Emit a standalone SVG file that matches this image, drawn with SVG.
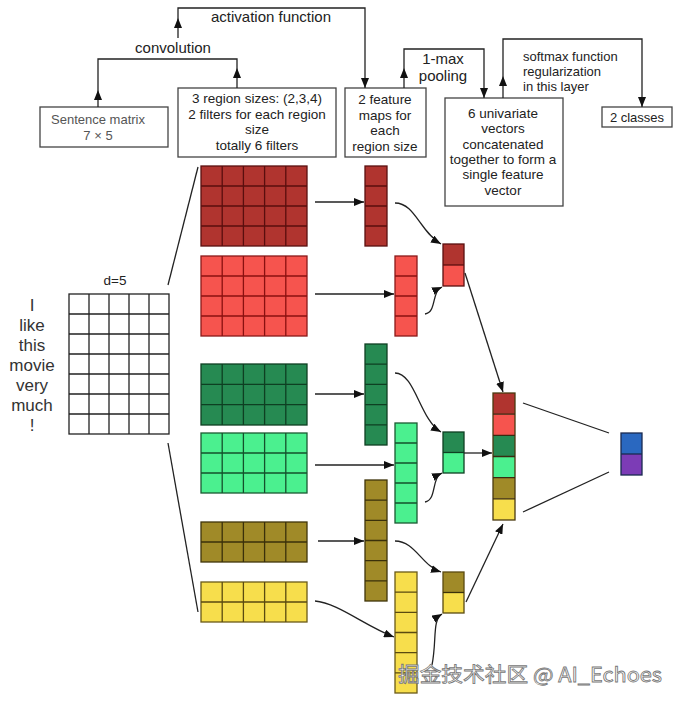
<svg xmlns="http://www.w3.org/2000/svg" width="680" height="705" viewBox="0 0 680 705">
<defs>
<marker id="ah" markerUnits="userSpaceOnUse" markerWidth="10" markerHeight="8" refX="10" refY="4" orient="auto">
<path d="M0,0 L10,4 L0,8 z" fill="#111"/>
</marker>
<style>
text{font-family:"Liberation Sans",Arial,sans-serif;fill:#222}
.box{fill:#fff;stroke:#444;stroke-width:1.3}
.t{font-size:13.5px;text-anchor:middle}
.lbl{font-size:15px}
.ln{fill:none;stroke:#222;stroke-width:1.3}
.ar{fill:none;stroke:#222;stroke-width:1.3;marker-end:url(#ah)}
.gl{fill:none;stroke-width:1.3}
.word{font-size:17px;text-anchor:middle;fill:#333}
</style>
</defs>
<rect width="680" height="705" fill="#fff"/>

<g id="sentence-box">
<rect class="box" x="40" y="107" width="128" height="40"/>
<text class="t" x="98" y="124" style="fill:#555;font-size:13px">Sentence matrix</text>
<text class="t" x="98" y="140" style="fill:#555;font-size:13px">7 × 5</text>
</g>
<g id="region-box">
<rect class="box" x="178" y="88" width="158" height="69"/>
<text class="t" x="257" y="103">3 region sizes: (2,3,4)</text>
<text class="t" x="257" y="119">2 filters for each region</text>
<text class="t" x="257" y="134">size</text>
<text class="t" x="257" y="150">totally 6 filters</text>
</g>
<g id="featuremap-box">
<rect class="box" x="345" y="88" width="81" height="69"/>
<text class="t" x="385" y="104">2 feature</text>
<text class="t" x="385" y="120">maps for</text>
<text class="t" x="385" y="135">each</text>
<text class="t" x="385" y="151">region size</text>
</g>
<g id="univariate-box">
<rect class="box" x="445" y="98" width="118" height="108"/>
<text class="t" x="503" y="118">6 univariate</text>
<text class="t" x="503" y="133">vectors</text>
<text class="t" x="503" y="149">concatenated</text>
<text class="t" x="503" y="164">together to form a</text>
<text class="t" x="503" y="179">single feature</text>
<text class="t" x="503" y="195">vector</text>
</g>
<g id="classes-box">
<rect class="box" x="602" y="107" width="70" height="20"/>
<text class="t" x="637" y="122" style="font-size:13px">2 classes</text>
</g>

<g id="labels">
<text class="lbl" x="173" y="53" text-anchor="middle">convolution</text>
<text class="lbl" x="271" y="22" text-anchor="middle">activation function</text>
<text class="lbl" x="443" y="64" text-anchor="middle">1-max</text>
<text class="lbl" x="443" y="81" text-anchor="middle">pooling</text>
<text x="523" y="61" style="font-size:13px">softmax function</text>
<text x="523" y="76" style="font-size:13px">regularization</text>
<text x="523" y="91" style="font-size:13px">in this layer</text>
<text x="115" y="285" text-anchor="middle" style="font-size:13.5px">d=5</text>
</g>

<g id="words">
<text class="word" x="32" y="311">I</text>
<text class="word" x="32" y="331">like</text>
<text class="word" x="32" y="351">this</text>
<text class="word" x="32" y="371">movie</text>
<text class="word" x="32" y="391">very</text>
<text class="word" x="32" y="411">much</text>
<text class="word" x="32" y="431">!</text>
</g>

<g id="sentence-matrix">
<rect x="69" y="294" width="100" height="140" fill="#fff" stroke="#222" stroke-width="1.3"/>
<path class="gl" stroke="#222" d="M89,294V434M109,294V434M129,294V434M149,294V434M69,314H169M69,334H169M69,354H169M69,374H169M69,394H169M69,414H169"/>
</g>

<g id="filter-darkred">
<rect x="201" y="166" width="106" height="80" fill="#B0342F" stroke="#5a1010" stroke-width="1.3"/>
<path class="gl" stroke="#5a0e0e" d="M222.2,166V246M243.4,166V246M264.6,166V246M285.8,166V246M201,186H307M201,206H307M201,226H307"/>
</g>
<g id="filter-lightred">
<rect x="201" y="256" width="106" height="80" fill="#F6544E" stroke="#8a1a1a" stroke-width="1.3"/>
<path class="gl" stroke="#8a1010" d="M222.2,256V336M243.4,256V336M264.6,256V336M285.8,256V336M201,276H307M201,296H307M201,316H307"/>
</g>
<g id="filter-darkgreen">
<rect x="201" y="364" width="106" height="61" fill="#268A52" stroke="#0e3f22" stroke-width="1.3"/>
<path class="gl" stroke="#0e3f22" d="M222.2,364V425M243.4,364V425M264.6,364V425M285.8,364V425M201,384.3H307M201,404.7H307"/>
</g>
<g id="filter-lightgreen">
<rect x="201" y="433" width="106" height="60" fill="#4BF08F" stroke="#1a5a32" stroke-width="1.3"/>
<path class="gl" stroke="#14502c" d="M222.2,433V493M243.4,433V493M264.6,433V493M285.8,433V493M201,453H307M201,473H307"/>
</g>
<g id="filter-olive">
<rect x="201" y="522" width="106" height="40" fill="#A08A28" stroke="#3f350a" stroke-width="1.3"/>
<path class="gl" stroke="#3a300a" d="M222.2,522V562M243.4,522V562M264.6,522V562M285.8,522V562M201,542H307"/>
</g>
<g id="filter-yellow">
<rect x="201" y="582" width="106" height="40" fill="#F7DE4C" stroke="#6a5a18" stroke-width="1.3"/>
<path class="gl" stroke="#5a4a10" d="M222.2,582V622M243.4,582V622M264.6,582V622M285.8,582V622M201,602H307"/>
</g>

<g id="map-darkred">
<rect x="365" y="166" width="22" height="80" fill="#B0342F" stroke="#5a1010" stroke-width="1.3"/>
<path class="gl" stroke="#5a0e0e" d="M365,186H387M365,206H387M365,226H387"/>
</g>
<g id="map-lightred">
<rect x="395" y="256" width="22" height="80" fill="#F6544E" stroke="#8a1a1a" stroke-width="1.3"/>
<path class="gl" stroke="#8a1010" d="M395,276H417M395,296H417M395,316H417"/>
</g>
<g id="map-darkgreen">
<rect x="365" y="344" width="22" height="101" fill="#268A52" stroke="#0e3f22" stroke-width="1.3"/>
<path class="gl" stroke="#0e3f22" d="M365,364.2H387M365,384.4H387M365,404.6H387M365,424.8H387"/>
</g>
<g id="map-lightgreen">
<rect x="395" y="423" width="22" height="100" fill="#4BF08F" stroke="#1a5a32" stroke-width="1.3"/>
<path class="gl" stroke="#14502c" d="M395,443H417M395,463H417M395,483H417M395,503H417"/>
</g>
<g id="map-olive">
<rect x="365" y="480" width="22" height="121" fill="#A08A28" stroke="#3f350a" stroke-width="1.3"/>
<path class="gl" stroke="#3a300a" d="M365,500.2H387M365,520.3H387M365,540.5H387M365,560.7H387M365,580.8H387"/>
</g>
<g id="map-yellow">
<rect x="395" y="572" width="22" height="121" fill="#F7DE4C" stroke="#6a5a18" stroke-width="1.3"/>
<path class="gl" stroke="#5a4a10" d="M395,592.2H417M395,612.3H417M395,632.5H417M395,652.7H417M395,672.8H417"/>
</g>

<g id="pooled-red">
<rect x="443" y="244" width="21" height="21" fill="#B0342F"/>
<rect x="443" y="265" width="21" height="21" fill="#F6544E"/>
<rect x="443" y="244" width="21" height="42" fill="none" stroke="#5a1010" stroke-width="1.3"/>
<path class="gl" stroke="#5a0e0e" d="M443,265H464"/>
</g>
<g id="pooled-green">
<rect x="443" y="432" width="21" height="20.5" fill="#268A52"/>
<rect x="443" y="452.5" width="21" height="20.5" fill="#4BF08F"/>
<rect x="443" y="432" width="21" height="41" fill="none" stroke="#0e3f22" stroke-width="1.3"/>
<path class="gl" stroke="#0e3f22" d="M443,452.5H464"/>
</g>
<g id="pooled-yellow">
<rect x="443" y="572" width="21" height="20.5" fill="#A08A28"/>
<rect x="443" y="592.5" width="21" height="20.5" fill="#F7DE4C"/>
<rect x="443" y="572" width="21" height="41" fill="none" stroke="#5a4a10" stroke-width="1.3"/>
<path class="gl" stroke="#3a300a" d="M443,592.5H464"/>
</g>

<g id="concat-vector">
<rect x="493" y="393" width="22" height="21.2" fill="#B0342F"/>
<rect x="493" y="414.2" width="22" height="21.1" fill="#F6544E"/>
<rect x="493" y="435.3" width="22" height="21.2" fill="#268A52"/>
<rect x="493" y="456.5" width="22" height="21.2" fill="#4BF08F"/>
<rect x="493" y="477.7" width="22" height="21.1" fill="#A08A28"/>
<rect x="493" y="498.8" width="22" height="21.2" fill="#F7DE4C"/>
<rect x="493" y="393" width="22" height="127" fill="none" stroke="#4a3a10" stroke-width="1.3"/>
<path class="gl" stroke="#3a2a10" d="M493,414.2H515M493,435.3H515M493,456.5H515M493,477.7H515M493,498.8H515"/>
</g>

<g id="output">
<rect x="621" y="433" width="21" height="21" fill="#2A68C0"/>
<rect x="621" y="454" width="21" height="21" fill="#7C3CB6"/>
<rect x="621" y="433" width="21" height="42" fill="none" stroke="#1a2a50" stroke-width="1.3"/>
<path class="gl" stroke="#1a2a50" d="M621,454H642"/>
</g>

<g id="connectors">
<path class="ar" d="M98,107V90"/>
<path class="ln" d="M98,90V59H237V68"/>
<path class="ar" d="M237,88V68"/>
<path class="ar" d="M178,38V18"/>
<path class="ln" d="M178,18V8H365V80"/>
<path class="ar" d="M365,78V88"/>
<path class="ar" d="M404,88V68"/>
<path class="ln" d="M404,68V49H484V90"/>
<path class="ar" d="M484,88V98"/>
<path class="ar" d="M503,98V76"/>
<path class="ln" d="M503,76V39H642V100"/>
<path class="ar" d="M642,97V107"/>
<path class="ln" stroke="#555" d="M168,285L198,167"/>
<path class="ln" stroke="#555" d="M168,443L198,612"/>
<path class="ar" d="M315,202H364"/>
<path class="ar" d="M315,294H394"/>
<path class="ar" d="M315,394H364"/>
<path class="ar" d="M315,465H394"/>
<path class="ar" d="M318,541H364"/>
<path class="ar" d="M315,601C338,603 365,626 394,637"/>
<path class="ar" d="M395,203C415,203 420,232 441,244"/>
<path class="ar" d="M425,314C437,312 431,292 442,287"/>
<path class="ar" d="M395,373C415,373 420,420 441,432"/>
<path class="ar" d="M425,502C437,500 431,478 442,473"/>
<path class="ar" d="M395,541C415,541 422,566 441,572"/>
<path class="ar" d="M432,665C437,640 432,620 442,614"/>
<path class="ar" d="M465,273L503,392"/>
<path class="ar" d="M464,453H492"/>
<path class="ar" d="M466,602L503,524"/>
<path class="ln" d="M523,403L609,433"/>
<path class="ln" d="M523,512L609,472"/>
</g>

<g id="watermark">
<text x="398" y="682" textLength="264" lengthAdjust="spacingAndGlyphs" style="font-family:'Noto Sans CJK SC','Liberation Sans',sans-serif;font-size:20px;fill:#fff;stroke:#777;stroke-width:0.8">掘金技术社区 @ AI_Echoes</text>
</g>
</svg>
